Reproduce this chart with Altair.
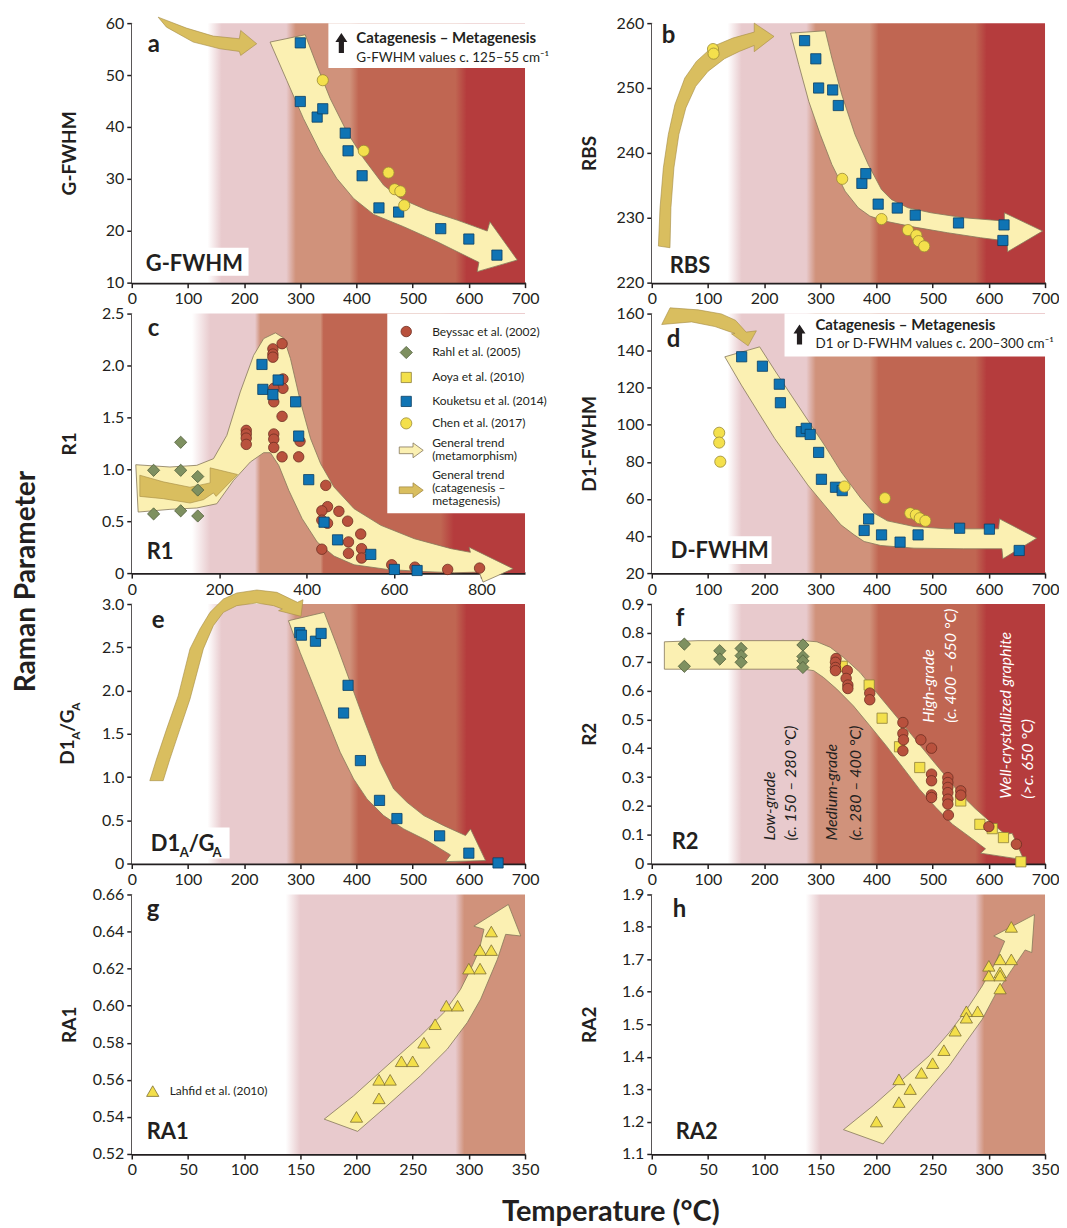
import altair as alt
import pandas as pd

FONT = "Lato"
INK = "#231f20"
W, H = 394, 260

# ---------------- colours ----------------
WHITE = "#ffffff"
PINK = "#e8cacd"
TAN = "#d0927b"
RED = "#c06652"
DARK = "#b53c3d"
PALE_FILL = "#fbf0b2"
PALE_LINE = "#85775a"
GOLD_FILL = "#d9be5f"
GOLD_LINE = "#a48b45"

# background colour bands (temperature, colour) - soft transitions
BANDS_700 = [(0, WHITE), (135, WHITE), (160, PINK), (275, PINK), (292, TAN), (388, TAN),
             (404, RED), (576, RED), (596, DARK), (700, DARK)]
BANDS_900 = [(0, WHITE), (138, WHITE), (180, PINK), (282, PINK), (294, TAN), (432, TAN),
             (439, RED), (707, RED), (737, DARK), (900, DARK)]
BANDS_350 = [(0, WHITE), (137, WHITE), (150, PINK), (288, PINK), (296, TAN), (350, TAN)]

# ---------------- data ----------------
# (a) G-FWHM
A_KOU_T = [300, 300, 330, 340, 380, 385, 410, 440, 475, 550, 600, 650]
A_KOU_V = [56.2, 44.9, 41.9, 43.5, 38.8, 35.4, 30.6, 24.4, 23.6, 20.4, 18.4, 15.3]
A_CHEN_T = [340, 413, 457, 468, 478, 485]
A_CHEN_V = [49.0, 35.4, 31.2, 28.0, 27.6, 24.9]

# (b) RBS
B_KOU_T = [272, 292, 297, 322, 332, 374, 381, 403, 437, 469, 546, 627, 625]
B_KOU_V = [257.3, 254.5, 250.0, 249.7, 247.3, 235.3, 236.8, 232.1, 231.5, 230.4, 229.2, 228.9, 226.5]
B_CHEN_T = [109, 110, 339, 409, 456, 471, 475, 485]
B_CHEN_V = [256.0, 255.3, 236.0, 229.8, 228.1, 227.3, 226.4, 225.6]

# (c) R1
C_BEY_T = [344, 323, 323, 323, 346, 346, 325, 325, 344, 262, 262, 262, 262, 325, 325, 325, 344,
           382, 385, 444, 448, 435, 435, 448, 474, 494, 524, 496, 496, 435, 526, 526, 595, 648,
           723, 796]
C_BEY_V = [2.21, 2.16, 2.11, 2.08, 1.87, 1.78, 1.78, 1.65, 1.51, 1.375, 1.34, 1.30, 1.24, 1.34,
           1.29, 1.21, 1.12, 1.12, 1.27, 0.845, 0.64, 0.60, 0.51, 0.48, 0.595, 0.50, 0.376, 0.30,
           0.19, 0.23, 0.235, 0.145, 0.08, 0.057, 0.035, 0.048]
C_RAHL_T = [50, 112, 112, 151, 151, 50, 112, 151]
C_RAHL_V = [0.99, 1.26, 0.99, 0.93, 0.80, 0.57, 0.60, 0.55]
C_KOU_T = [298, 300, 335, 323, 375, 382, 405, 440, 471, 547, 601, 653]
C_KOU_V = [2.01, 1.77, 1.86, 1.72, 1.65, 1.32, 0.90, 0.49, 0.32, 0.18, 0.035, 0.025]

# (d) D1-FWHM
D_KOU_T = [160, 197, 227, 229, 266, 275, 282, 297, 302, 327, 339, 378, 386, 409, 442, 474, 548, 601, 654]
D_KOU_V = [136.7, 131.6, 121.9, 111.9, 96.3, 98.1, 94.8, 85.1, 70.6, 66.3, 64.5, 43.0, 49.2, 40.6,
           36.7, 40.6, 44.2, 43.7, 32.2]
D_CHEN_T = [120, 120, 122, 343, 415, 460, 470, 477, 487]
D_CHEN_V = [95.7, 90.4, 80.1, 66.7, 60.4, 52.3, 51.4, 49.6, 48.2]

# (e) D1A/GA
E_KOU_T = [299, 302, 327, 337, 385, 377, 407, 441, 472, 548, 600, 652]
E_KOU_V = [2.67, 2.64, 2.57, 2.66, 2.06, 1.74, 1.19, 0.73, 0.52, 0.32, 0.12, 0.007]

# (f) R2
F_RAHL_T = [58, 58, 121, 121, 159, 159, 159, 269, 269, 269, 269]
F_RAHL_V = [0.761, 0.684, 0.738, 0.709, 0.746, 0.721, 0.698, 0.758, 0.718, 0.703, 0.680]
F_BEY_T = [328, 327, 327, 327, 348, 346, 349, 349, 388, 388, 447, 447, 448, 447, 479, 498, 498,
           498, 498, 498, 527, 527, 527, 527, 527, 527, 528, 550, 550, 600, 649]
F_BEY_V = [0.711, 0.698, 0.680, 0.669, 0.669, 0.642, 0.619, 0.607, 0.591, 0.568, 0.489, 0.451,
           0.429, 0.391, 0.429, 0.400, 0.310, 0.287, 0.238, 0.229, 0.298, 0.281, 0.264, 0.246,
           0.223, 0.206, 0.168, 0.252, 0.237, 0.128, 0.067]
F_AOYA_T = [339, 387, 410, 441, 477, 550, 584, 606, 626, 657]
F_AOYA_V = [0.684, 0.619, 0.504, 0.405, 0.333, 0.217, 0.136, 0.121, 0.090, 0.006]

# (g) RA1 and (h) RA2 - Lahfid et al. (2010)
G_LAH_T = [200, 220, 220, 230, 240, 250, 260, 270, 280, 290, 300, 310, 310, 320, 320]
G_LAH_V = [0.54, 0.55, 0.56, 0.56, 0.57, 0.57, 0.58, 0.59, 0.60, 0.60, 0.62, 0.62, 0.63, 0.63, 0.64]
H_LAH_T = [200, 220, 220, 230, 240, 250, 260, 270, 280, 280, 290, 300, 300, 310, 310, 310, 310, 320, 320]
H_LAH_V = [1.20, 1.33, 1.26, 1.30, 1.35, 1.38, 1.42, 1.48, 1.54, 1.52, 1.54, 1.68, 1.65, 1.70,
           1.66, 1.65, 1.61, 1.70, 1.80]

# ---------------- trend arrows (outline vertices, temperature / value) ----------------
A_TREND = [(246.2, 56.35), (308.7, 57.76), (329.5, 51.86), (353.3, 45.45), (383.0, 39.04),
           (412.7, 33.91), (448.4, 28.78), (478.1, 26.22), (525.7, 23.97), (579.2, 22.05),
           (632.8, 19.94), (637.5, 21.73), (686.3, 14.36), (614.9, 12.12), (617.9, 13.91),
           (543.6, 17.88), (484.1, 20.77), (430.6, 23.14), (394.9, 26.22), (365.1, 30.06),
           (335.4, 35.19), (305.7, 41.6), (275.9, 48.97)]
A_CATA = [(47.0, 61.15), (97.5, 59.04), (145.1, 57.5), (191.5, 56.99), (193.9, 58.59),
          (222.4, 56.03), (193.9, 53.78), (191.5, 54.55), (157.0, 55.06), (109.4, 56.35),
          (61.8, 59.23)]
B_TREND = [(308.8, 258.82), (320.6, 254.62), (338.2, 248.97), (361.7, 242.82), (385.3, 238.21),
           (408.8, 234.36), (426.4, 232.82), (455.9, 231.54), (497.0, 230.77), (555.8, 230.0),
           (627.6, 229.49), (627.6, 230.77), (695.8, 227.95), (633.5, 224.77), (632.3, 226.41),
           (585.3, 226.92), (526.4, 227.69), (467.6, 228.56), (414.7, 229.49), (388.2, 230.26),
           (367.6, 231.54), (344.1, 234.10), (320.6, 238.21), (300.0, 242.82), (279.4, 247.95),
           (261.7, 253.59), (247.0, 258.46)]
B_CATA = [(11.8, 225.64), (14.7, 231.54), (20.6, 237.69), (29.4, 242.82), (41.2, 247.44),
          (58.8, 251.54), (79.4, 254.10), (108.8, 256.41), (144.1, 257.69), (182.4, 258.62),
          (182.4, 260.0), (217.6, 257.95), (182.4, 255.6), (182.4, 256.56), (155.9, 255.64),
          (129.4, 254.51), (100.0, 252.56), (78.2, 250.26), (60.6, 246.92), (48.2, 242.82),
          (39.4, 237.69), (34.1, 231.54), (32.4, 225.38)]
C_TREND = [(9.2, 1.044), (87.4, 1.022), (148.7, 1.038), (187.0, 1.102), (217.6, 1.327),
           (248.3, 1.745), (278.9, 2.098), (301.9, 2.259), (328.7, 2.314), (347.9, 2.265),
           (363.2, 2.066), (386.2, 1.648), (409.2, 1.295), (432.2, 1.054), (462.8, 0.829),
           (508.8, 0.620), (570.1, 0.460), (646.7, 0.331), (731.0, 0.235), (775.0, 0.200),
           (772.0, 0.250), (872.8, 0.042), (803.9, -0.087), (795.0, 0.010), (738.7, 0.003),
           (662.1, 0.016), (585.5, 0.035), (508.8, 0.080), (462.8, 0.164), (424.5, 0.299),
           (390.0, 0.524), (359.4, 0.797), (336.4, 1.038), (317.2, 1.160), (301.9, 1.160),
           (271.3, 1.070), (233.0, 0.893), (194.6, 0.668), (148.7, 0.627), (87.4, 0.614),
           (14.6, 0.588)]
C_CATA = [(18.4, 0.943), (72.0, 0.879), (133.3, 0.827), (179.3, 0.869), (179.3, 1.014),
          (242.1, 0.950), (193.1, 0.739), (186.9, 0.772), (163.9, 0.707), (133.3, 0.675),
          (72.0, 0.717), (18.4, 0.739)]
D_TREND = [(192.0, 142.05), (218.6, 129.49), (248.1, 116.02), (277.6, 102.56), (307.2, 89.10),
           (336.7, 74.74), (372.1, 60.38), (395.8, 52.30), (419.4, 48.17), (466.7, 45.12),
           (525.7, 43.86), (617.3, 43.86), (619.1, 49.25), (685.2, 38.84), (625.0, 27.71),
           (623.2, 33.09), (555.3, 33.09), (466.7, 33.45), (407.6, 34.89), (378.0, 37.04),
           (360.3, 40.63), (336.7, 46.02), (307.2, 56.79), (277.6, 67.56), (248.1, 80.12),
           (218.6, 92.69), (189.0, 107.05), (159.5, 121.41), (130.0, 136.67)]
D_CATA = [(32.6, 163.1), (82.8, 162.0), (124.1, 159.8), (149.0, 156.4), (168.0, 150.0),
          (186.2, 150.7), (171.5, 142.6), (141.9, 149.1), (148.0, 149.3), (136.0, 150.5),
          (112.4, 153.0), (70.9, 155.5), (17.7, 154.1)]
E_TREND = [(342.5, 2.904), (365.1, 2.519), (388.9, 2.095), (412.7, 1.671), (442.5, 1.170),
           (466.2, 0.862), (490.0, 0.708), (519.8, 0.554), (555.5, 0.438), (594.1, 0.323),
           (603.0, 0.400), (629.8, 0.034), (558.4, 0.022), (567.3, 0.100), (525.7, 0.265),
           (484.1, 0.400), (448.4, 0.554), (418.7, 0.747), (394.9, 0.978), (371.1, 1.286),
           (347.3, 1.671), (323.5, 2.056), (299.7, 2.441), (278.9, 2.807)]
E_CATA = [(32.1, 0.958), (44.1, 1.208), (62.0, 1.554), (82.7, 1.938), (103.6, 2.481),
          (121.4, 2.712), (139.3, 2.904), (163.1, 3.058), (186.9, 3.127), (222.6, 3.162),
          (258.3, 3.135), (295.0, 3.020), (304.8, 3.050), (301.2, 2.858), (261.3, 2.923),
          (268.0, 2.943), (252.4, 2.981), (222.6, 3.012), (186.9, 2.981), (163.1, 2.904),
          (145.2, 2.750), (127.4, 2.481), (103.6, 1.900), (85.7, 1.554), (67.9, 1.208),
          (55.9, 0.958)]
F_TREND = [(22.4, 0.769), (82.3, 0.773), (270.6, 0.773), (294.1, 0.769), (317.6, 0.750),
           (341.2, 0.715), (370.6, 0.663), (400.0, 0.593), (429.4, 0.524), (458.8, 0.455),
           (488.2, 0.385), (517.6, 0.316), (547.0, 0.246), (576.0, 0.190), (605.0, 0.140),
           (629.6, 0.101), (641.5, 0.105), (662.2, 0.013), (585.3, 0.036), (594.1, 0.051),
           (564.7, 0.094), (535.3, 0.136), (505.9, 0.194), (476.4, 0.258), (447.0, 0.333),
           (417.6, 0.408), (388.2, 0.478), (358.8, 0.547), (329.4, 0.605), (305.9, 0.645),
           (288.2, 0.669), (270.6, 0.674), (22.4, 0.674)]
G_TREND = [(171.3, 0.5388), (197.5, 0.5514), (227.2, 0.5676), (257.0, 0.5837), (277.8, 0.5963),
           (292.6, 0.6088), (301.6, 0.6196), (309.0, 0.6295), (313.5, 0.6412), (304.5, 0.6429),
           (335.2, 0.6546), (346.2, 0.6376), (332.8, 0.6385), (325.4, 0.6250), (317.9, 0.6142),
           (310.5, 0.6035), (298.6, 0.5909), (280.7, 0.5765), (257.0, 0.5622), (227.2, 0.5460),
           (201.0, 0.5322)]
H_TREND = [(170.6, 1.175), (197.0, 1.249), (223.5, 1.331), (247.0, 1.403), (264.7, 1.474),
           (279.4, 1.541), (294.1, 1.618), (305.9, 1.690), (314.1, 1.756), (304.4, 1.772),
           (340.6, 1.838), (338.2, 1.721), (332.3, 1.729), (320.6, 1.669), (305.9, 1.592),
           (294.1, 1.515), (279.4, 1.444), (264.7, 1.372), (247.0, 1.300), (226.5, 1.218),
           (205.9, 1.131)]

# ---------------- texts ----------------
LEGEND_C = ["Beyssac et al. (2002)", "Rahl et al. (2005)", "Aoya et al. (2010)",
            "Kouketsu et al. (2014)", "Chen et al. (2017)"]
TREND_META = ["General trend", "(metamorphism)"]
TREND_CATA = ["General trend", "(catagenesis \u2013", "metagenesis)"]
BOX_TITLE = "Catagenesis \u2013 Metagenesis"
BOX_A = "G-FWHM values c. 125\u201355 cm\u207b\u00b9"
BOX_D = "D1 or D-FWHM values c. 200\u2013300 cm\u207b\u00b9"
GRADES_DARK = [("Low-grade", "(c. 150 \u2013 280 \u00b0C)"), ("Medium-grade", "(c. 280 \u2013 400 \u00b0C)")]
GRADES_WHITE = [("High-grade", "(c. 400 \u2013 650 \u00b0C)"), ("Well-crystallized graphite", "(>c. 650 \u00b0C)")]

ARROW_RIGHT = "M -1 -0.28 L 0.15 -0.28 L 0.15 -0.62 L 1 0 L 0.15 0.62 L 0.15 0.28 L -1 0.28 Z"
ARROW_UP = "M -0.26 1 L -0.26 -0.1 L -0.6 -0.1 L 0 -1 L 0.6 -0.1 L 0.26 -0.1 L 0.26 1 Z"

ZERO_EXPR = "datum.value == 0 ? '0' : format(datum.value, '.1f')"


class Panel:
    def __init__(self, xmax, xticks, ydom, yticks, ytitle, fmt=None, expr=None):
        self.xmax = xmax
        self.xticks = xticks
        self.ydom = ydom
        self.yticks = yticks
        self.ytitle = ytitle
        self.fmt = fmt
        self.expr = expr
        self.layers = []

    def X(self):
        return alt.X("x:Q", scale=alt.Scale(domain=[0, self.xmax], nice=False, zero=False),
                     axis=alt.Axis(values=self.xticks, title=None, format="d",
                                   labelFlush=False, labelOverlap=False))

    def Y(self):
        kw = dict(values=self.yticks, title=self.ytitle, titleX=-62, titleY=H / 2,
                  titleAngle=270, titleAlign="center", titleBaseline="middle",
                  labelFlush=False, labelOverlap=False)
        if self.expr:
            kw["labelExpr"] = self.expr
        else:
            kw["format"] = self.fmt
        return alt.Y("y:Q", scale=alt.Scale(domain=self.ydom, nice=False, zero=False),
                     axis=alt.Axis(**kw))

    def background(self, stops):
        grad = alt.LinearGradient(
            gradient="linear", x1=0, x2=1, y1=0, y2=0,
            stops=[alt.GradientStop(offset=t / self.xmax, color=c) for t, c in stops])
        df = pd.DataFrame({"x": [0], "x2": [self.xmax], "y": [self.ydom[0]], "y2": [self.ydom[1]]})
        self.layers.append(alt.Chart(df).mark_rect(fill=grad).encode(
            x=self.X(), x2="x2:Q", y=self.Y(), y2="y2:Q"))

    def polygon(self, verts, fill, stroke, sw=0.8):
        df = pd.DataFrame({"x": [v[0] for v in verts], "y": [v[1] for v in verts],
                           "o": list(range(len(verts)))})
        self.layers.append(alt.Chart(df).mark_line(
            interpolate="linear-closed", filled=True, fill=fill, stroke=stroke,
            strokeWidth=sw, strokeJoin="miter").encode(
            x=self.X(), y=self.Y(), order=alt.Order("o:Q")))

    def points(self, xs, ys, shape, fill, stroke, size):
        df = pd.DataFrame({"x": xs, "y": ys})
        self.layers.append(alt.Chart(df).mark_point(
            shape=shape, filled=True, fill=fill, stroke=stroke, strokeWidth=0.8,
            size=size, opacity=1).encode(x=self.X(), y=self.Y()))

    def text(self, t, x, y, size, weight="normal", style="normal", color=INK, angle=0,
             baseline="alphabetic"):
        df = pd.DataFrame({"t": [t]})
        self.layers.append(alt.Chart(df).mark_text(
            align="left", baseline=baseline, font=FONT, fontSize=size, fontWeight=weight,
            fontStyle=style, color=color, angle=angle).encode(
            x=alt.value(x), y=alt.value(y), text="t:N"))

    def box(self, x, x2, y, y2):
        self.layers.append(alt.Chart(pd.DataFrame({"d": [0]})).mark_rect(color="white").encode(
            x=alt.value(x), x2=alt.value(x2), y=alt.value(y), y2=alt.value(y2)))

    def symbol(self, x, y, shape, size, fill, stroke, sw=0.8):
        self.layers.append(alt.Chart(pd.DataFrame({"d": [0]})).mark_point(
            shape=shape, filled=True, size=size, fill=fill, stroke=stroke, strokeWidth=sw,
            opacity=1).encode(x=alt.value(x), y=alt.value(y)))

    def chart(self):
        return alt.layer(*self.layers).properties(width=W, height=H)


# marker styles
BEY = ("circle", "#b9513d", "#6e2e22", 110)
RAHL = ("diamond", "#7e9060", "#4f5d3a", 150)
AOYA = ("square", "#f3e04b", "#8e7f3a", 105)
KOU = ("square", "#0f74b4", "#0b3f63", 105)
CHEN = ("circle", "#f4e04c", "#9b8a36", 125)
LAH = ("triangle-up", "#f3df4a", "#7d6f33", 150)

T700 = [0, 100, 200, 300, 400, 500, 600, 700]
T350 = [0, 50, 100, 150, 200, 250, 300, 350]

# ---- panel a ----
pa = Panel(700, T700, [10, 60], [10, 20, 30, 40, 50, 60], "G-FWHM", fmt="d")
pa.background(BANDS_700)
pa.box(197, 428, 0, 45)
pa.box(1, 117, 225, 253)
pa.polygon(A_TREND, PALE_FILL, PALE_LINE)
pa.polygon(A_CATA, GOLD_FILL, GOLD_LINE, 0.6)
pa.points(A_KOU_T, A_KOU_V, *KOU)
pa.points(A_CHEN_T, A_CHEN_V, *CHEN)
pa.symbol(210, 20, ARROW_UP, 400, INK, INK, 0)
pa.text(BOX_TITLE, 225, 19.5, 15, "bold")
pa.text(BOX_A, 225, 38.5, 13.5)
pa.text("a", 16, 29, 24, "bold")
pa.text("G-FWHM", 14, 248, 22, "bold")

# ---- panel b ----
pb = Panel(700, T700, [220, 260], [220, 230, 240, 250, 260], "RBS", fmt="d")
pb.background(BANDS_700)
pb.polygon(B_TREND, PALE_FILL, PALE_LINE)
pb.polygon(B_CATA, GOLD_FILL, GOLD_LINE, 0.6)
pb.points(B_KOU_T, B_KOU_V, *KOU)
pb.points(B_CHEN_T, B_CHEN_V, *CHEN)
pb.text("b", 10, 20, 24, "bold")
pb.text("RBS", 18, 250, 22, "bold")

# ---- panel c ----
pc = Panel(900, [0, 200, 400, 600, 800], [0, 2.5], [0, 0.5, 1.0, 1.5, 2.0, 2.5], "R1", expr=ZERO_EXPR)
pc.background(BANDS_900)
pc.box(256, 425, 0, 200)
pc.polygon(C_TREND, PALE_FILL, PALE_LINE)
pc.polygon(C_CATA, GOLD_FILL, GOLD_LINE, 0.6)
pc.points(C_RAHL_T, C_RAHL_V, *RAHL)
pc.points(C_BEY_T, C_BEY_V, *BEY)
pc.points(C_KOU_T, C_KOU_V, *KOU)
legend_y = [18, 39, 64, 88, 110]
for (shape, fill, stroke, size), lab, yy in zip([BEY, RAHL, AOYA, KOU, CHEN], LEGEND_C, legend_y):
    pc.symbol(275, yy, shape, size, fill, stroke)
    pc.text(lab, 301, yy, 12, baseline="middle")
pc.symbol(280, 137, ARROW_RIGHT, 576, PALE_FILL, PALE_LINE)
pc.symbol(280, 177, ARROW_RIGHT, 576, GOLD_FILL, GOLD_LINE)
for lab, yy in zip(TREND_META, [130, 143]):
    pc.text(lab, 301, yy, 12, baseline="middle")
for lab, yy in zip(TREND_CATA, [162, 175, 188]):
    pc.text(lab, 301, yy, 12, baseline="middle")
pc.text("c", 16, 22, 24, "bold")
pc.text("R1", 15, 246, 22, "bold")

# ---- panel d ----
pd_ = Panel(700, T700, [20, 160], [20, 40, 60, 80, 100, 120, 140, 160], "D1-FWHM", fmt="d")
pd_.background(BANDS_700)
pd_.box(133, 404, 0, 43)
pd_.box(2, 120, 223, 251)
pd_.polygon(D_TREND, PALE_FILL, PALE_LINE)
pd_.polygon(D_CATA, GOLD_FILL, GOLD_LINE, 0.6)
pd_.points(D_KOU_T, D_KOU_V, *KOU)
pd_.points(D_CHEN_T, D_CHEN_V, *CHEN)
pd_.symbol(148, 21, ARROW_UP, 400, INK, INK, 0)
pd_.text(BOX_TITLE, 164, 16, 15, "bold")
pd_.text(BOX_D, 164, 34, 13.5)
pd_.text("d", 15, 33, 24, "bold")
pd_.text("D-FWHM", 19, 245, 22, "bold")

# ---- panel e ----
pe = Panel(700, T700, [0, 3.0], [0, 0.5, 1.0, 1.5, 2.0, 2.5, 3.0], None, expr=ZERO_EXPR)
pe.background(BANDS_700)
pe.box(1, 98, 224, 255)
pe.polygon(E_TREND, PALE_FILL, PALE_LINE)
pe.polygon(E_CATA, GOLD_FILL, GOLD_LINE, 0.6)
pe.points(E_KOU_T, E_KOU_V, *KOU)
pe.text("e", 20, 24, 24, "bold")
# in-panel label D1A/GA
pe.text("D1", 19, 247, 22, "bold")
pe.text("A", 48, 253, 13, "bold")
pe.text("/G", 57, 247, 22, "bold")
pe.text("A", 81, 253, 13, "bold")
# rotated axis title D1A/GA
pe.text("D1", -58, 161, 19, "bold", angle=270)
pe.text("A", -52, 136, 12, "bold", angle=270)
pe.text("/G", -58, 128, 19, "bold", angle=270)
pe.text("A", -52, 107, 12, "bold", angle=270)

# ---- panel f ----
pf = Panel(700, T700, [0, 0.9], [0, 0.1, 0.2, 0.3, 0.4, 0.5, 0.6, 0.7, 0.8, 0.9], "R2", expr=ZERO_EXPR)
pf.background(BANDS_700)
pf.polygon(F_TREND, PALE_FILL, PALE_LINE)
pf.points(F_RAHL_T, F_RAHL_V, *RAHL)
pf.points(F_AOYA_T, F_AOYA_V, *AOYA)
pf.points(F_BEY_T, F_BEY_V, *BEY)
for (l1, l2), (x1, x2), yb in zip(GRADES_DARK, [(118, 140), (181, 205)], [237, 237]):
    pf.text(l1, x1, yb, 16, style="italic", angle=270, baseline="middle")
    pf.text(l2, x2, yb, 16, style="italic", angle=270, baseline="middle")
for (l1, l2), (x1, x2), yb in zip(GRADES_WHITE, [(278, 300), (355, 377)], [119, 195]):
    pf.text(l1, x1, yb, 16, style="italic", angle=270, baseline="middle", color="white")
    pf.text(l2, x2, yb, 16, style="italic", angle=270, baseline="middle", color="white")
pf.text("f", 24, 22, 24, "bold")
pf.text("R2", 20, 245, 22, "bold")

# ---- panel g ----
pg = Panel(350, T350, [0.52, 0.66], [0.52, 0.54, 0.56, 0.58, 0.60, 0.62, 0.64, 0.66], "RA1", fmt=".2f")
pg.background(BANDS_350)
pg.polygon(G_TREND, PALE_FILL, PALE_LINE)
pg.points(G_LAH_T, G_LAH_V, *LAH)
pg.symbol(21, 197, LAH[0], LAH[3], LAH[1], LAH[2])
pg.text("Lahfid et al. (2010)", 38, 197, 12, baseline="middle")
pg.text("g", 15, 23, 24, "bold")
pg.text("RA1", 15, 245, 22, "bold")

# ---- panel h ----
ph = Panel(350, T350, [1.1, 1.9], [1.1, 1.2, 1.3, 1.4, 1.5, 1.6, 1.7, 1.8, 1.9], "RA2", fmt=".1f")
ph.background(BANDS_350)
ph.polygon(H_TREND, PALE_FILL, PALE_LINE)
ph.points(H_LAH_T, H_LAH_V, *LAH)
ph.text("h", 21, 23, 24, "bold")
ph.text("RA2", 24, 245, 22, "bold")

panels = [p.chart() for p in [pa, pb, pc, pd_, pe, pf, pg, ph]]

grid = alt.concat(*panels, columns=2, spacing=alt.RowColnumber(row=31, column=127),
                  bounds="flush",
                  title=alt.TitleParams("Raman Parameter", orient="left", anchor="middle",
                                        font=FONT, fontSize=28, fontWeight="bold", color=INK,
                                        offset=18, dx=15))

chart = alt.vconcat(grid, title=alt.TitleParams("Temperature (\u00b0C)", orient="bottom",
                                                anchor="middle", font=FONT, fontSize=29,
                                                fontWeight="bold", color=INK, offset=20, dx=75)
                    ).properties(
    padding={"left": 4, "top": 6, "right": 0, "bottom": 0}
).configure_view(stroke=None).configure_axis(
    domainColor=INK, domainWidth=2.5, tickColor=INK, tickWidth=1.5, tickSize=5,
    labelFont=FONT, labelFontSize=16, labelColor=INK, labelPadding=3,
    titleFont=FONT, titleFontSize=19, titleFontWeight="bold", titleColor=INK, grid=False)

chart.save("out.html", embed_options={"renderer": "svg", "actions": False})
